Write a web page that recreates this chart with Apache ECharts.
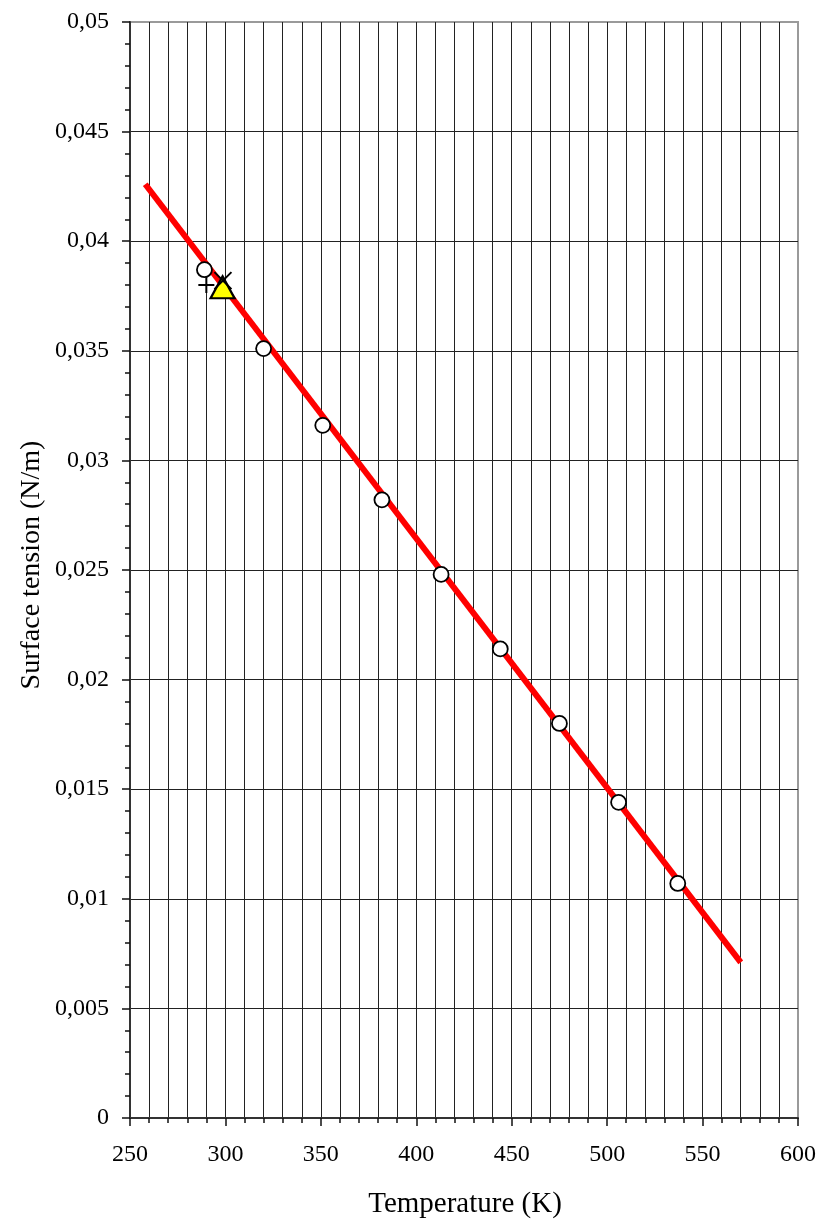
<!DOCTYPE html>
<html>
<head>
<meta charset="utf-8">
<script src="https://cdn.jsdelivr.net/npm/echarts@6/dist/echarts.min.js"></script>
<style>
  html, body { margin: 0; padding: 0; background: #fff; }
  #chart { width: 822px; height: 1221px; }
</style>
</head>
<body>
<div id="chart"></div>
<script>
// Measured surface tension of the liquid vs. temperature
const tempK = [289, 320, 351, 382, 413, 444, 475, 506, 537];
const sigma = [0.0387, 0.0351, 0.0316, 0.0282, 0.0248, 0.0214, 0.0180, 0.0144, 0.0107];

// Linear correlation (end points of the fitted line)
const fitT = [258, 570];
const fitSigma = [0.0426, 0.0071];

// Single reference values near room temperature
const plusPoint = [290, 0.0380];
const crossPoint = [298.7, 0.0382];
const trianglePoint = [298.5, 0.0379];

const xTitle = 'Temperature (K)';
const yTitle = 'Surface tension (N/m)';

const FONT = '"Liberation Serif", "Times New Roman", serif';
const GRID = '#222';
const EDGE = '#9a9a9a';

const chart = echarts.init(document.getElementById('chart'), null, { renderer: 'canvas' });

// top and right edges of the plot area are drawn in grey
const yColors = [];
for (let i = 0; i < 10; i++) yColors.push(GRID);
yColors.push(EDGE);
const xColors = [];
for (let i = 0; i < 7; i++) xColors.push(GRID);
xColors.push(EDGE);

const fmtY = v => {
  const r = parseFloat(Number(v).toFixed(4));
  return String(r).replace('.', ',');
};

chart.setOption({
  animation: false,
  backgroundColor: '#fff',
  grid: {
    left: 130, right: 24, top: 22, bottom: 103,
    show: true, borderColor: EDGE, borderWidth: 2, backgroundColor: 'transparent'
  },
  xAxis: {
    type: 'value', min: 250, max: 600, interval: 50,
    axisLine: { show: true, onZero: false, lineStyle: { color: '#333', width: 2 } },
    axisTick: { show: true, length: 8, lineStyle: { color: '#111', width: 1.5 } },
    minorTick: { show: true, splitNumber: 5, length: 5, lineStyle: { color: '#111', width: 1.5 } },
    splitLine: { show: true, lineStyle: { color: xColors, width: 1 } },
    minorSplitLine: { show: true, lineStyle: { color: GRID, width: 1 } },
    axisLabel: { margin: 25, fontFamily: FONT, fontSize: 24, color: '#000' }
  },
  yAxis: {
    type: 'value', min: 0, max: 0.05, interval: 0.005,
    axisLine: { show: true, onZero: false, lineStyle: { color: '#333', width: 2 } },
    axisTick: { show: true, length: 8, lineStyle: { color: '#111', width: 1.5 } },
    minorTick: { show: true, splitNumber: 5, length: 5, lineStyle: { color: '#111', width: 1.5 } },
    splitLine: { show: true, lineStyle: { color: yColors, width: 1 } },
    minorSplitLine: { show: false },
    axisLabel: { margin: 21, fontFamily: FONT, fontSize: 24, color: '#000', formatter: fmtY }
  },
  graphic: [
    {
      type: 'text', x: 465, y: 1204,
      style: { text: xTitle, font: '29px ' + FONT, fill: '#000', align: 'center', verticalAlign: 'middle' }
    },
    {
      type: 'text', x: 32, y: 565, rotation: Math.PI / 2,
      style: { text: yTitle, font: '28px ' + FONT, fill: '#000', align: 'center', verticalAlign: 'middle' }
    }
  ],
  series: [
    {
      type: 'line', name: 'fit', z: 2,
      data: fitT.map((t, i) => [t, fitSigma[i]]),
      showSymbol: false, symbol: 'none',
      lineStyle: { color: '#ff0000', width: 6 }
    },
    {
      type: 'scatter', name: 'measured', z: 3,
      data: tempK.map((t, i) => [t, sigma[i]]),
      symbol: 'circle', symbolSize: 15,
      itemStyle: { color: '#fff', borderColor: '#000', borderWidth: 1.8, opacity: 1 }
    },
    {
      type: 'scatter', name: 'plus', z: 4,
      data: [plusPoint],
      symbol: 'path://M5,0L5,10M0,5L10,5', symbolSize: 16,
      itemStyle: { color: 'none', borderColor: '#000', borderWidth: 2, opacity: 1 }
    },
    {
      type: 'scatter', name: 'triangle', z: 5,
      data: [trianglePoint],
      symbol: 'triangle', symbolSize: [24, 22],
      itemStyle: { color: '#ffff00', borderColor: '#000', borderWidth: 2.2, opacity: 1 }
    },
    {
      type: 'scatter', name: 'cross', z: 6,
      data: [crossPoint],
      symbol: 'path://M0,0L10,10M10,0L0,10', symbolSize: 17,
      itemStyle: { color: 'none', borderColor: '#000', borderWidth: 2, opacity: 1 }
    }
  ]
});
</script>
</body>
</html>
